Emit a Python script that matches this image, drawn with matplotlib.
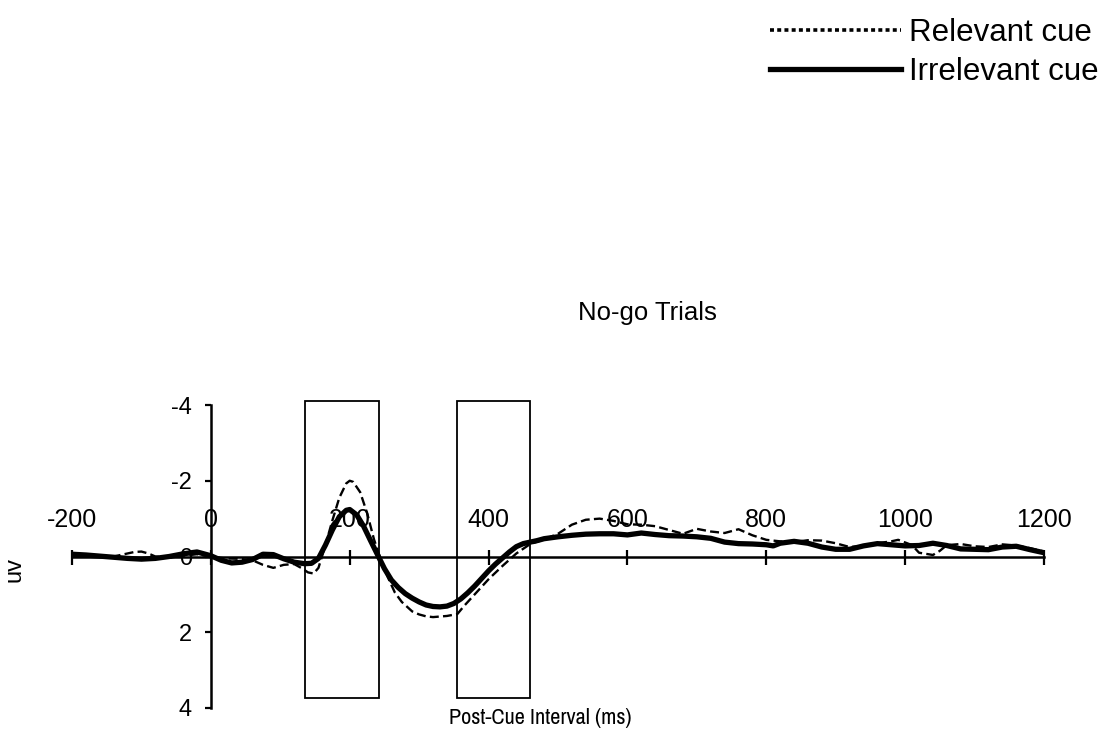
import matplotlib
matplotlib.use("Agg")
import matplotlib.pyplot as plt
from matplotlib.lines import Line2D
from matplotlib.patches import Rectangle

# ---------------- data ----------------
t_irrelevant = [-200, -180, -160, -140, -120, -100, -80, -60, -40, -20, 0, 15, 30, 45, 60, 75, 90,
                105, 120, 135, 145, 155, 165, 175, 185, 195, 200, 210, 220, 230, 240, 250, 260,
                270, 280, 290, 300, 310, 320, 330, 340, 350, 360, 370, 380, 390, 400, 410, 420,
                430, 440, 450, 460, 470, 480, 500, 520, 540, 560, 580, 600, 620, 640, 660, 680,
                700, 720, 740, 760, 780, 800, 810, 820, 840, 860, 880, 900, 920, 940, 960, 980,
                1000, 1020, 1040, 1060, 1080, 1100, 1120, 1140, 1160, 1180, 1200]
v_irrelevant = [-0.06, -0.04, -0.01, 0.02, 0.05, 0.07, 0.05, 0.0, -0.07, -0.12, -0.02, 0.10, 0.17,
                0.15, 0.08, -0.06, -0.05, 0.06, 0.15, 0.19, 0.18, 0.05, -0.30, -0.70, -1.05,
                -1.22, -1.24, -1.10, -0.80, -0.42, -0.05, 0.32, 0.62, 0.82, 0.98, 1.10, 1.20,
                1.28, 1.32, 1.33, 1.31, 1.24, 1.12, 0.96, 0.78, 0.58, 0.38, 0.20, 0.04, -0.12,
                -0.26, -0.34, -0.38, -0.42, -0.47, -0.52, -0.56, -0.59, -0.60, -0.60, -0.57,
                -0.62, -0.58, -0.55, -0.54, -0.52, -0.48, -0.38, -0.34, -0.33, -0.31, -0.28,
                -0.35, -0.40, -0.35, -0.25, -0.19, -0.19, -0.28, -0.34, -0.31, -0.28, -0.29,
                -0.35, -0.29, -0.20, -0.19, -0.18, -0.25, -0.27, -0.18, -0.10]

t_relevant = [-200, -180, -160, -140, -120, -110, -100, -90, -80, -60, -40, -20, 0, 20, 40, 60,
              75, 90, 105, 120, 130, 140, 148, 155, 165, 175, 185, 195, 200, 205, 215, 225, 235,
              245, 255, 265, 275, 290, 300, 310, 320, 340, 355, 365, 380, 400, 420, 440, 460,
              480, 500, 520, 540, 560, 580, 600, 620, 640, 660, 680, 700, 720, 740, 760, 780,
              800, 820, 840, 860, 880, 900, 920, 940, 960, 980, 990, 1010, 1020, 1040, 1050,
              1060, 1080, 1100, 1120, 1140, 1160, 1180, 1200]
v_relevant = [-0.05, -0.04, -0.02, 0.0, -0.08, -0.12, -0.13, -0.08, 0.0, 0.03, -0.02, -0.06, 0.0,
              0.05, 0.06, 0.10, 0.22, 0.30, 0.22, 0.20, 0.30, 0.42, 0.45, 0.30, -0.30, -0.95,
              -1.55, -1.93, -2.00, -1.97, -1.70, -1.15, -0.45, 0.10, 0.55, 0.95, 1.20, 1.45,
              1.53, 1.58, 1.60, 1.57, 1.52, 1.30, 1.00, 0.60, 0.25, -0.08, -0.33, -0.45, -0.60,
              -0.84, -0.97, -1.00, -0.94, -0.85, -0.84, -0.80, -0.70, -0.60, -0.73, -0.66,
              -0.62, -0.72, -0.56, -0.44, -0.40, -0.38, -0.43, -0.42, -0.35, -0.25, -0.28,
              -0.35, -0.40, -0.44, -0.30, -0.10, -0.04, -0.15, -0.30, -0.33, -0.27, -0.25,
              -0.32, -0.29, -0.22, -0.13]

x_ticks = [-200, 0, 200, 400, 600, 800, 1000, 1200]
y_ticks = [-4, -2, 0, 2, 4]
box_start = [135, 354]
box_end = [242, 460]
box_low = -4.11
box_high = 3.73

labels = ["Relevant cue", "Irrelevant cue"]
title = "No-go Trials"
xlabel = "Post-Cue Interval (ms)"
ylabel = "uv"

# ---------------- figure ----------------
plt.rcParams['font.family'] = ['Liberation Sans', 'DejaVu Sans']
W, H = 1104, 732
fig = plt.figure(figsize=(W / 100, H / 100), dpi=100)
ax = fig.add_axes([72 / W, 1 - 708 / H, (1044 - 72) / W, (708 - 405) / H])
ax.set_xlim(-200, 1200)
ax.set_ylim(4, -4)

for s, e in zip(box_start, box_end):
    ax.add_patch(Rectangle((s, box_low), e - s, box_high - box_low, fill=False,
                           edgecolor='black', linewidth=1.3, clip_on=False, zorder=1))

ax.plot(t_relevant, v_relevant, color='black', linewidth=1.7, dashes=(3.8, 1.8),
        clip_on=False, zorder=3)
ax.plot(t_irrelevant, v_irrelevant, color='black', linewidth=3.8, solid_capstyle='butt',
        clip_on=False, zorder=4)

for side in ['top', 'right']:
    ax.spines[side].set_visible(False)
ax.spines['left'].set_position(('data', 0))
ax.spines['bottom'].set_position(('data', 0))
ax.spines['left'].set_linewidth(1.8)
ax.spines['bottom'].set_linewidth(1.8)

ax.set_xticks(x_ticks)
ax.set_xticklabels([])
ax.tick_params(axis='x', direction='inout', length=10.8, width=1.6)
for v in x_ticks:
    ax.annotate(str(v), (v, 0), xytext=(0, 26.5), textcoords='offset points',
                ha='center', va='center', fontsize=18)

ax.set_yticks(y_ticks)
ax.set_yticklabels([str(v) for v in y_ticks])
ax.tick_params(axis='y', direction='out', length=4.6, width=1.6, pad=9, labelsize=17)

fig.text(647 / W, 1 - 313 / H, title, ha='center', va='center', fontsize=18.5)
fig.text(540 / W, 1 - 718 / H, xlabel, ha='center', va='center', fontsize=16,
         family=['Archivo Narrow', 'Liberation Sans'])
fig.text(15 / W, 1 - 569 / H, ylabel, ha='center', va='center', fontsize=17, rotation=90)

handles = [Line2D([], [], color='black', linewidth=2.6, linestyle=(0, (1.1, 0.9))),
           Line2D([], [], color='black', linewidth=3.8)]
fig.legend(handles, labels, loc='upper left', bbox_to_anchor=(770 / W, 1 - 18 / H),
           frameon=False, fontsize=22.5, handlelength=4.2, handletextpad=0.25,
           labelspacing=0.3, borderpad=0, borderaxespad=0)

fig.savefig('out.png', dpi=100)
